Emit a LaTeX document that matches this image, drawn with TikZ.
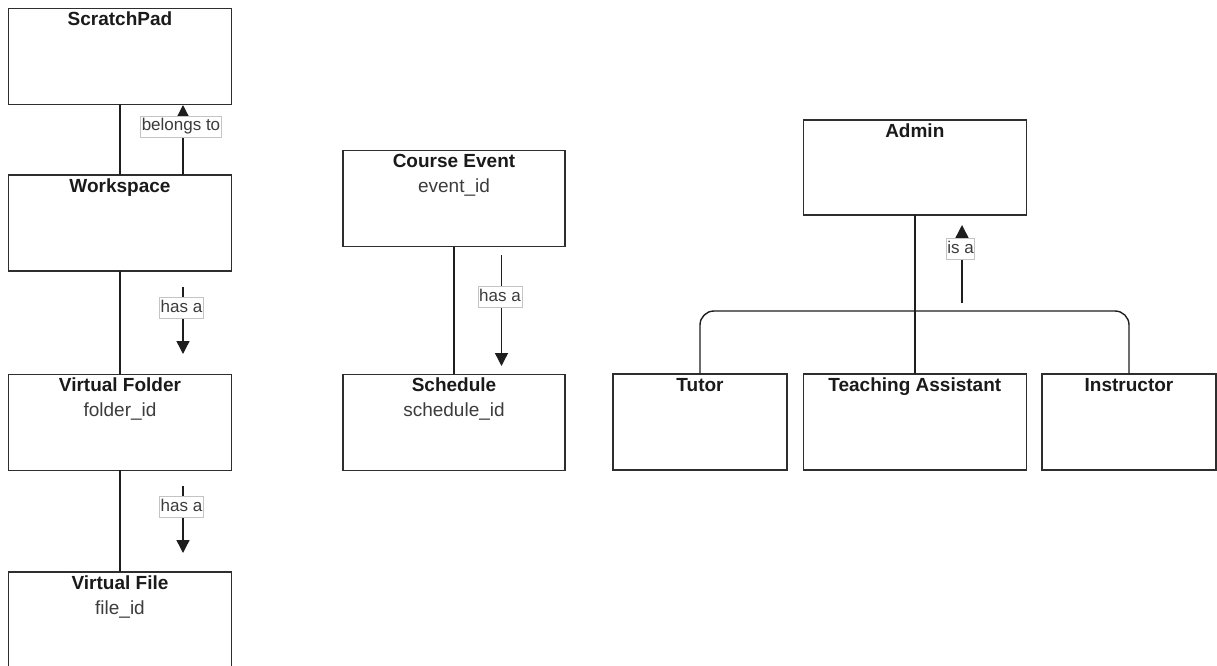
\documentclass[tikz,border=0pt]{standalone}
\usepackage{fontspec}
\setmainfont{Liberation Sans}
\usetikzlibrary{arrows.meta}
\definecolor{boxc}{HTML}{2E2E2E}
\definecolor{linec}{HTML}{1E1E1E}
\definecolor{lblc}{HTML}{C4C4C4}
\definecolor{txtc}{HTML}{1A1A1A}
\newcommand{\titlefnt}{\fontsize{19pt}{23pt}\selectfont\bfseries}
\newcommand{\attrfnt}{\fontsize{19pt}{23pt}\selectfont}
\newcommand{\lblfnt}{\fontsize{17pt}{20pt}\selectfont}
\tikzset{
  box/.style={draw=boxc, line width=1.4pt, rectangle, minimum width=223pt, minimum height=96pt, inner sep=0pt, outer sep=0pt, anchor=north west},
  smallbox/.style={box, minimum width=174pt},
  titletext/.style={font=\titlefnt, text=txtc, anchor=base, inner sep=0pt},
  attrtext/.style={font=\attrfnt, text=txtc!85, anchor=base, inner sep=0pt},
  lbl/.style={draw=lblc, fill=white, line width=0.6pt, font=\lblfnt, text=txtc!85, inner xsep=1pt, inner ysep=2pt, text height=13pt, text depth=4pt},
  conn/.style={draw=linec, line width=1.4pt},
  rel/.style={conn, -{Triangle[length=13pt,width=13pt]}}
}
\begin{document}
\begin{tikzpicture}[x=1pt,y=-1pt]
\useasboundingbox (0,0) rectangle (1217,666);
% boxes
\node[box] (sp) at (8.5,8.3) {};
\node[box] (ws) at (8.5,175) {};
\node[box] (vf) at (8.5,374.3) {};
\node[box] (vfile) at (8.5,572) {};
\node[box, minimum width=222pt] (ce) at (343,150.7) {};
\node[box, minimum width=222pt] (sch) at (343,374.3) {};
\node[box, minimum height=95pt] (admin) at (803.3,120) {};
\node[smallbox] (tutor) at (613,374) {};
\node[box] (ta) at (803.3,374) {};
\node[smallbox] (inst) at (1042,374) {};
% titles
\node[titletext] (spT) at ([yshift=-17pt]sp.north) {ScratchPad};
\node[titletext] (wsT) at ([yshift=-17pt]ws.north) {Workspace};
\node[titletext] (vfT) at ([yshift=-17pt]vf.north) {Virtual Folder};
\node[attrtext] (vfA) at ([yshift=-42pt]vf.north) {folder\_id};
\node[titletext] (vfileT) at ([yshift=-17pt]vfile.north) {Virtual File};
\node[attrtext] (vfileA) at ([yshift=-42pt]vfile.north) {file\_id};
\node[titletext] (ceT) at ([yshift=-17pt]ce.north) {Course Event};
\node[attrtext] (ceA) at ([yshift=-42pt]ce.north) {event\_id};
\node[titletext] (schT) at ([yshift=-17pt]sch.north) {Schedule};
\node[attrtext] (schA) at ([yshift=-42pt]sch.north) {schedule\_id};
\node[titletext] (adminT) at ([yshift=-17pt]admin.north) {Admin};
\node[titletext] (tutorT) at ([yshift=-17pt]tutor.north) {Tutor};
\node[titletext] (taT) at ([yshift=-17pt]ta.north) {Teaching Assistant};
\node[titletext] (instT) at ([yshift=-17pt]inst.north) {Instructor};
% plain connectors
\draw[conn] (sp.south) -- (ws.north);
\draw[conn] (ws.south) -- (vf.north);
\draw[conn] (vf.south) -- (vfile.north);
\draw[conn] (ce.south) -- (sch.north);
\draw[conn] (admin.south) -- (ta.north);
\coordinate (bar) at (0,311);
\draw[conn, rounded corners=14pt] (tutor.north) |- (bar -| inst.north) -- (inst.north);
% relation arrows
\coordinate (r1s) at (183,175);   \coordinate (r1e) at (183,105);
\coordinate (r2s) at (183,287);   \coordinate (r2e) at (183,354);
\coordinate (r3s) at (183,486);   \coordinate (r3e) at (183,553);
\coordinate (r4s) at (501.5,255); \coordinate (r4e) at (501.5,366);
\coordinate (r5s) at (962,303);   \coordinate (r5e) at (962,225);
\draw[rel] (r1s) -- (r1e);
\draw[rel] (r2s) -- (r2e);
\draw[rel] (r3s) -- (r3e);
\draw[rel] (r4s) -- (r4e);
\draw[rel] (r5s) -- (r5e);
% labels
\node[lbl] (l1) at (181,126.5) {belongs to};
\node[lbl] (l2) at (181.5,307.5) {has a};
\node[lbl] (l3) at (181.5,506.5) {has a};
\node[lbl] (l4) at (500,297) {has a};
\node[lbl] (l5) at (960.5,249) {is a};
\end{tikzpicture}
\end{document}
